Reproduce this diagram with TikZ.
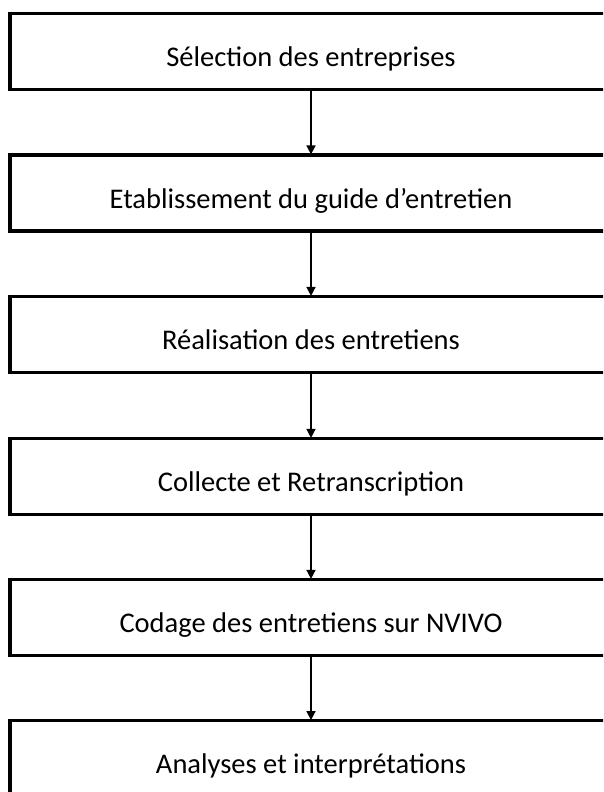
\documentclass[tikz,border=0pt]{standalone}
\usepackage{fontspec}
\setmainfont{Carlito}
\usetikzlibrary{arrows.meta}
\begin{document}
\begin{tikzpicture}[x=1pt,y=-1pt,
  stepbox/.style={draw=black,line width=3.2pt,minimum width=602pt,minimum height=76pt,inner sep=0pt},
  steptext/.style={font=\fontsize{28.5}{34}\selectfont,anchor=base,inner sep=0pt},
  flow/.style={line width=1.6pt,-{Triangle[length=9pt,width=9pt]},shorten >=-1pt}]
\useasboundingbox (0,0) rectangle (603,792);
\clip (0,0) rectangle (603,792);
\fill[white] (0,0) rectangle (603,792);
\node[stepbox] (b1) at (311,51.3) {};
\node[stepbox] (b2) at (311,193) {};
\node[stepbox] (b3) at (311,334.5) {};
\node[stepbox] (b4) at (311,476.5) {};
\node[stepbox] (b5) at (311,617.5) {};
\node[stepbox] (b6) at (311,758.7) {};
\node[steptext] (t1) at (311,66.5) {Sélection des entreprises};
\node[steptext] (t2) at (311,208) {Etablissement du guide d’entretien};
\node[steptext] (t3) at (311,349) {Réalisation des entretiens};
\node[steptext] (t4) at (311,491) {Collecte et Retranscription};
\node[steptext] (t5) at (311,632) {Codage des entretiens sur NVIVO};
\node[steptext] (t6) at (311,773.5) {Analyses et interprétations};
\draw[flow] (b1.south) -- (b2.north);
\draw[flow] (b2.south) -- (b3.north);
\draw[flow] (b3.south) -- (b4.north);
\draw[flow] (b4.south) -- (b5.north);
\draw[flow] (b5.south) -- (b6.north);
\end{tikzpicture}
\end{document}
